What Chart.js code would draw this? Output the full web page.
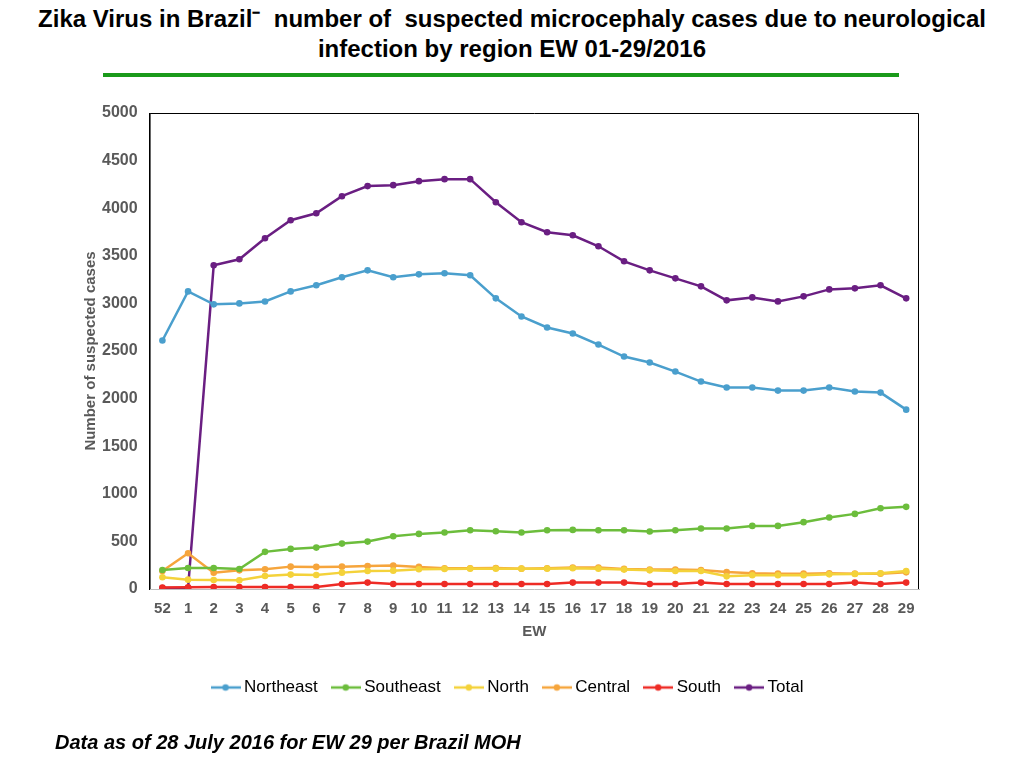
<!DOCTYPE html>
<html>
<head>
<meta charset="utf-8">
<script src="https://cdn.jsdelivr.net/npm/chart.js@4/dist/chart.umd.min.js"></script>
<style>
  html, body { margin:0; padding:0; background:#fff; }
  #wrap { position:relative; width:1024px; height:768px; overflow:hidden; }
  #title { position:absolute; left:0; top:4px; width:1024px; text-align:center;
    font-family:"Liberation Sans",Arial,sans-serif; font-weight:bold; font-size:24px; line-height:30px; color:#000; }
  #rule { position:absolute; left:103px; top:73px; width:796px; height:4px; background:#1a9a1a; }
  #foot { position:absolute; left:55px; top:731px; font-family:"Liberation Sans",Arial,sans-serif; font-weight:bold; font-style:italic; font-size:20px; color:#000; }
  #cv { position:absolute; left:0; top:0; }
</style>
</head>
<body>
<div id="wrap">
  <div id="title">Zika Virus in Brazil&#8315;&nbsp; number of&nbsp; suspected microcephaly cases due to neurological<br>infection by region EW 01-29/2016</div>
  <div id="rule"></div>
  <canvas id="cv" width="1024" height="768"></canvas>
  <div id="foot">Data as of 28 July 2016 for EW 29 per Brazil MOH</div>
</div>
<script>
const weeks = ["52","1","2","3","4","5","6","7","8","9","10","11","12","13","14","15","16","17","18","19","20","21","22","23","24","25","26","27","28","29"];
const northeast = [2610,3126,2990,3000,3020,3126,3190,3274,3347,3274,3305,3316,3295,3053,2863,2747,2684,2568,2442,2379,2284,2179,2116,2116,2084,2084,2116,2074,2063,1884];
const southeast = [200,221,220,210,390,421,435,477,498,554,579,593,617,607,593,617,621,617,617,604,617,635,635,663,663,702,751,789,849,863];
const north = [123,98,95,91,137,151,147,172,189,193,207,211,214,214,214,214,218,214,204,196,189,189,133,144,144,144,154,158,165,189];
const central = [189,375,172,196,207,235,232,235,242,246,232,218,218,221,214,218,225,225,211,204,204,200,179,165,161,161,165,161,161,175];
const south = [15,18,21,21,21,21,21,53,67,53,53,53,53,53,53,53,67,67,67,53,53,67,53,53,53,53,53,67,53,67];
const total = [10,10,3400,3463,3684,3874,3947,4126,4232,4242,4284,4305,4305,4063,3853,3747,3716,3600,3442,3347,3263,3179,3032,3063,3021,3074,3147,3158,3190,3053];
const seriesNames = ["Northeast","Southeast","North","Central","South","Total"];
const seriesColors = ["#4a9fcd","#6cbd3c","#f4d23a","#f6a53c","#ee2b25","#6a1e82"];
const seriesData = [northeast, southeast, north, central, south, total];
const yTicks = [0,500,1000,1500,2000,2500,3000,3500,4000,4500,5000];

function legendIcon(color){
  const c = document.createElement('canvas');
  c.width = 30; c.height = 10;
  const g = c.getContext('2d');
  g.strokeStyle = color; g.lineWidth = 2.5;
  g.beginPath(); g.moveTo(0,5); g.lineTo(30,5); g.stroke();
  g.fillStyle = color; g.beginPath(); g.arc(15,5,3.2,0,Math.PI*2); g.fill();
  return c;
}
const icons = seriesColors.map(legendIcon);

const frame = {
  id:'frame',
  afterLayout(chart){
    if (chart.legend) { chart.legend.left += 9; chart.legend.right += 9; }
  },
  afterDraw(chart){
    const a = chart.chartArea, g = chart.ctx;
    g.save();
    g.strokeStyle = '#000'; g.lineWidth = 1;
    g.beginPath();
    g.moveTo(a.left+0.5, a.bottom); g.lineTo(a.left+0.5, a.top+0.5);
    g.lineTo(a.right-0.5, a.top+0.5); g.lineTo(a.right-0.5, a.bottom);
    g.stroke();
    g.restore();
  }
};

const tickFont = { family:'"Liberation Sans", Arial, sans-serif', size:15, weight:'bold' };

new Chart(document.getElementById('cv'), {
  type:'line',
  data:{
    labels:weeks,
    datasets: seriesNames.map((n,i)=>({
      label:n, data:seriesData[i],
      borderColor:seriesColors[i], backgroundColor:seriesColors[i],
      pointBackgroundColor:seriesColors[i], pointBorderColor:seriesColors[i],
      borderWidth:2.5, pointRadius:3.3, pointBorderWidth:0, tension:0, fill:false
    }))
  },
  options:{
    responsive:false, animation:false,
    layout:{ padding:{ left:82, right:105, top:113, bottom:62 } },
    plugins:{
      legend:{ position:'bottom',
        labels:{ usePointStyle:true, pointStyleWidth:20, boxHeight:10, padding:18,
          color:'#595959', font:{ family:'"Liberation Sans", Arial, sans-serif', size:17 },
          generateLabels(chart){
            return chart.data.datasets.map((d,i)=>({
              text:d.label, pointStyle:icons[i], fillStyle:d.borderColor,
              strokeStyle:d.borderColor, lineWidth:0, hidden:false, datasetIndex:i
            }));
          }
        }
      },
      tooltip:{ enabled:false },
      title:{ display:false }
    },
    scales:{
      x:{
        offset:true,
        grid:{ display:false, drawTicks:false },
        border:{ display:true, color:'#bfbfbf', width:1 },
        ticks:{ color:'#595959', padding:11, maxRotation:0, autoSkip:false, font:tickFont },
        title:{ display:true, text:'EW', color:'#595959', padding:{ top:-6, bottom:20 }, font:tickFont }
      },
      y:{
        min:0, max:5000,
        afterBuildTicks(ax){ ax.ticks = yTicks.map(v=>({value:v})); },
        grid:{ display:false, drawTicks:false },
        border:{ display:true, color:'#000', width:1 },
        ticks:{ color:'#595959', padding:12, font:{ family:'"Liberation Sans", Arial, sans-serif', size:16, weight:'bold' },
          callback:(v)=>String(v) },
        title:{ display:true, text:'Number of suspected cases', color:'#595959', padding:{ top:0, bottom:-10 }, font:tickFont }
      }
    }
  },
  plugins:[frame]
});
</script>
</body>
</html>
